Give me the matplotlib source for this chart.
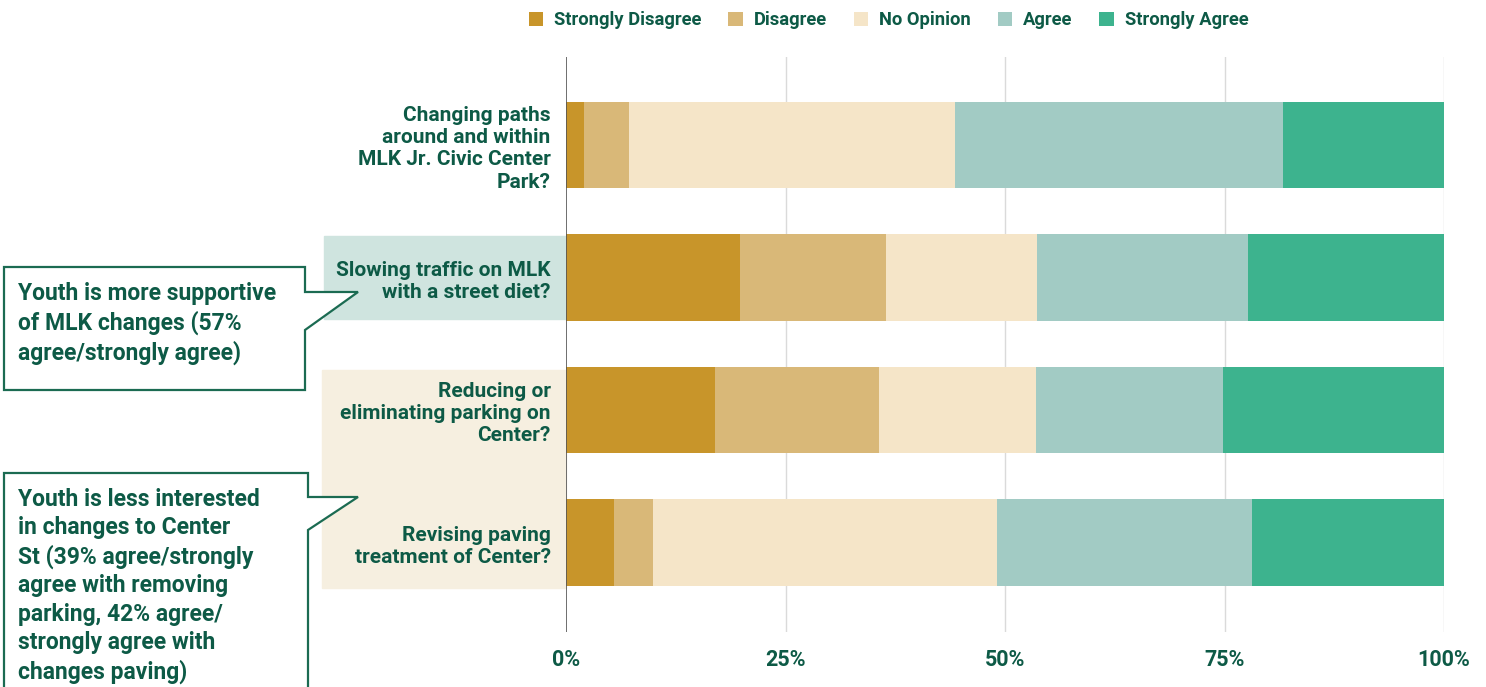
import numpy as np
import matplotlib.pyplot as plt
from matplotlib.patches import Rectangle, Polygon

# Survey responses, percent of respondents
questions = [
    "Changing paths\naround and within\nMLK Jr. Civic Center\nPark?",
    "Slowing traffic on MLK\nwith a street diet?",
    "Reducing or\neliminating parking on\nCenter?",
    "Revising paving\ntreatment of Center?",
]
responses = ["Strongly Disagree", "Disagree", "No Opinion", "Agree", "Strongly Agree"]
strongly_disagree = [2.1, 19.8, 17.0, 5.5]
disagree = [5.1, 16.6, 18.6, 4.4]
no_opinion = [37.1, 17.2, 17.9, 39.2]
agree = [37.4, 24.1, 21.3, 29.0]
strongly_agree = [18.3, 22.3, 25.2, 21.9]
ticks = [0, 25, 50, 75, 100]
tick_labels = ["0%", "25%", "50%", "75%", "100%"]

callout_1 = "Youth is more supportive\nof MLK changes (57%\nagree/strongly agree)"
callout_2 = ("Youth is less interested\nin changes to Center\nSt (39% agree/strongly\n"
             "agree with removing\nparking, 42% agree/\nstrongly agree with\nchanges paving)")

COLORS = ["#C8952A", "#D9B878", "#F5E5C8", "#A2CBC4", "#3DB38E"]
TEXT = "#0D5A46"
BOX = "#1B6B52"
W, H = 1486, 687

plt.rcParams["font.family"] = ["Roboto", "DejaVu Sans"]

fig = plt.figure(figsize=(W / 100, H / 100), dpi=100)
ax = fig.add_axes([566 / W, 1 - 632 / H, 878 / W, 575 / H])

series = [strongly_disagree, disagree, no_opinion, agree, strongly_agree]
y = np.arange(len(questions))
left = np.zeros(len(questions))
for name, vals, color in zip(responses, series, COLORS):
    ax.barh(y, vals, left=left, height=0.65, color=color, label=name, zorder=3)
    left += np.array(vals)

ax.set_xlim(0, 100)
ax.set_ylim(3.675, -0.664)
ax.set_xticks(ticks)
ax.set_xticklabels(tick_labels, fontsize=15.5, fontweight="bold", color=TEXT)
ax.set_yticks(y)
ax.set_yticklabels(questions, fontsize=15, fontweight="bold", color=TEXT)
for lbl in ax.get_yticklabels():
    lbl.set_linespacing(1.22)
ax.tick_params(axis="both", length=0)
ax.tick_params(axis="y", pad=11)
ax.tick_params(axis="x", pad=12)
for s in ax.spines.values():
    s.set_visible(False)
for t in ticks[1:]:
    ax.axvline(t, color="#DADADA", lw=1, zorder=1)
ax.axvline(0, color="#555555", lw=1.2, zorder=4)

# label highlight backgrounds
ax.add_patch(Rectangle((-0.2756 * 100, 1 - 0.315), 0.2756 * 100, 0.63,
                       color="#CFE4DF", clip_on=False, zorder=0))
ax.add_patch(Rectangle((-0.278 * 100, 2 - 0.30), 0.278 * 100, 1.645,
                       color="#F6EFE0", clip_on=False, zorder=0))


def px(x, yy):
    return (x / W, 1 - yy / H)


# callout boxes
shape_1 = [px(4, 267), px(305, 267), px(305, 292), px(358, 292), px(305, 330),
           px(305, 390), px(4, 390)]
shape_2 = [px(4, 473), px(308, 473), px(308, 497), px(358, 497), px(308, 530),
           px(308, 700), px(4, 700)]
for shp in (shape_1, shape_2):
    fig.patches.append(Polygon(shp, closed=True, fill=True, facecolor="white",
                               edgecolor=BOX, lw=1.6, transform=fig.transFigure))

fig.text(*px(18, 282), callout_1, fontsize=16.5, fontweight="bold", color=TEXT,
         va="top", ha="left", linespacing=1.28)
fig.text(*px(18, 488), callout_2, fontsize=16.5, fontweight="bold", color=TEXT,
         va="top", ha="left", linespacing=1.29)

fig.legend(loc="upper center", bbox_to_anchor=(0.598, 1.008), ncol=5, frameon=False,
           handlelength=0.8, handleheight=0.8, columnspacing=1.45,
           handletextpad=0.6, labelcolor=TEXT,
           prop={"weight": "bold", "size": 13.2})

fig.savefig("out.png", dpi=100)
